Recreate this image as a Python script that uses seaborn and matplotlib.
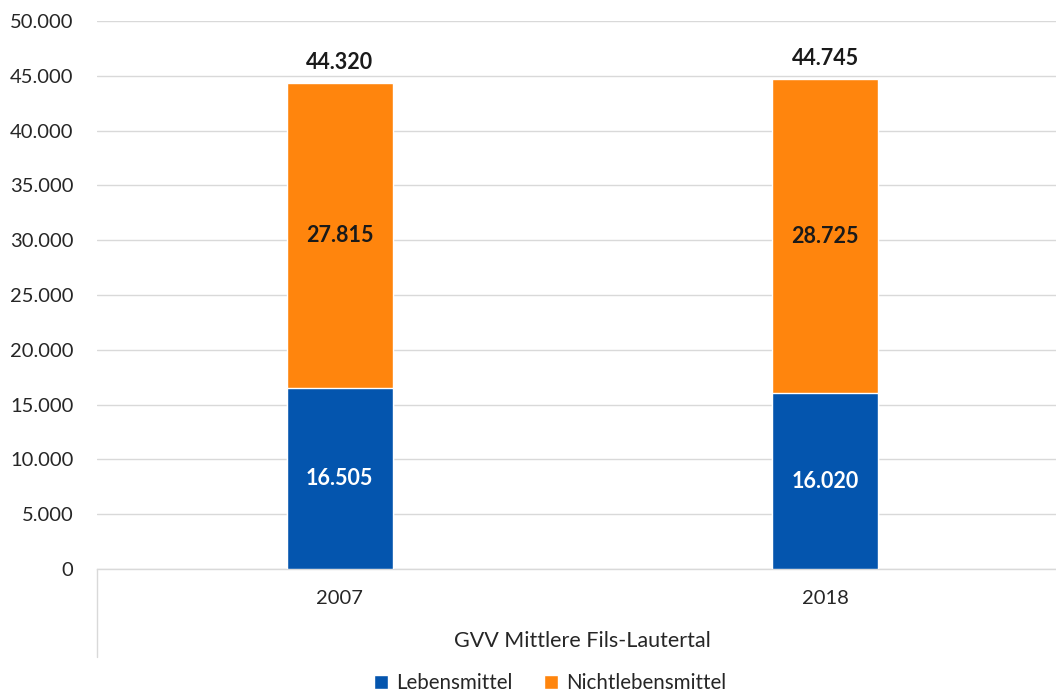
import matplotlib
matplotlib.use("Agg")
import matplotlib.pyplot as plt
from matplotlib.lines import Line2D
from matplotlib.patches import Patch
from matplotlib.ticker import FuncFormatter, MultipleLocator
import seaborn as sns
import pandas as pd

years = ["2007", "2018"]
lebensmittel = [16505, 16020]
nichtlebensmittel = [27815, 28725]
totals = [44320, 44745]
group_label = "GVV Mittlere Fils-Lautertal"
series_names = ["Lebensmittel", "Nichtlebensmittel"]

BLUE = "#0455AE"
ORANGE = "#FF850D"
GRID = "#D9D9D9"

sns.set_theme(style="white")
plt.rcParams["font.family"] = ["Lato", "DejaVu Sans"]

df = pd.DataFrame({"Jahr": years, "Lebensmittel": lebensmittel,
                   "Nichtlebensmittel": nichtlebensmittel, "Gesamt": totals})

fig = plt.figure(figsize=(10.56, 6.92), dpi=100)
W, H = 1056, 692
left, right, bottom, top = 97, 1068, 569, 21
ax = fig.add_axes([left / W, 1 - bottom / H, (right - left) / W, (bottom - top) / H])

# stacked bars: total drawn first, food share laid on top from the baseline
sns.barplot(data=df, x="Jahr", y="Gesamt", color=ORANGE, width=0.218,
            saturation=1, ax=ax, zorder=3)
sns.barplot(data=df, x="Jahr", y="Lebensmittel", color=BLUE, width=0.218,
            saturation=1, ax=ax, zorder=3)

ax.set_ylim(0, 50000)
ax.set_xlim(-0.5, 1.5)
ax.yaxis.set_major_locator(MultipleLocator(5000))
ax.yaxis.set_major_formatter(FuncFormatter(lambda v, p: f"{int(v):,}".replace(",", ".")))
ax.grid(axis="y", color=GRID, linewidth=1, zorder=0)
ax.set_axisbelow(True)
for s in ["top", "right", "left"]:
    ax.spines[s].set_visible(False)
ax.spines["bottom"].set_color(GRID)
ax.spines["bottom"].set_linewidth(1)
ax.tick_params(axis="y", length=0, pad=17, labelsize=14.5, labelcolor="#262626")
ax.tick_params(axis="x", length=0, pad=15, labelsize=14.5, labelcolor="#262626")
ax.set_xlabel("")
ax.set_ylabel("")

fmt = lambda v: f"{v:,}".replace(",", ".")
LBL = 15.5
for i in range(len(years)):
    ax.text(i, totals[i] + 900, fmt(totals[i]), ha="center", va="bottom",
            fontsize=LBL, fontweight="bold", color="#1a1a1a")
    ax.text(i, lebensmittel[i] + nichtlebensmittel[i] / 2, fmt(nichtlebensmittel[i]),
            ha="center", va="center", fontsize=LBL, fontweight="bold", color="#1a1a1a")
    ax.text(i, lebensmittel[i] / 2, fmt(lebensmittel[i]), ha="center", va="center",
            fontsize=LBL, fontweight="bold", color="white")

# category group box lines below the axis
for xa in (0, 1):
    ax.add_line(Line2D([xa, xa], [0, -(657 - 569) / (bottom - top)],
                       transform=ax.transAxes, color=GRID, linewidth=1, clip_on=False))
ax.text(0.5, -(641 - 569) / (bottom - top), group_label, transform=ax.transAxes,
        ha="center", va="center", fontsize=LBL, color="#262626")

handles = [Patch(facecolor=BLUE, label=series_names[0]),
           Patch(facecolor=ORANGE, label=series_names[1])]
fig.legend(handles=handles, loc="center", bbox_to_anchor=(550 / W, 1 - 683 / H),
           ncol=2, frameon=False, fontsize=14.8, handlelength=0.7, handleheight=0.7,
           handletextpad=0.4, columnspacing=1.5, labelcolor="#262626")

fig.savefig("out.png", dpi=100)
